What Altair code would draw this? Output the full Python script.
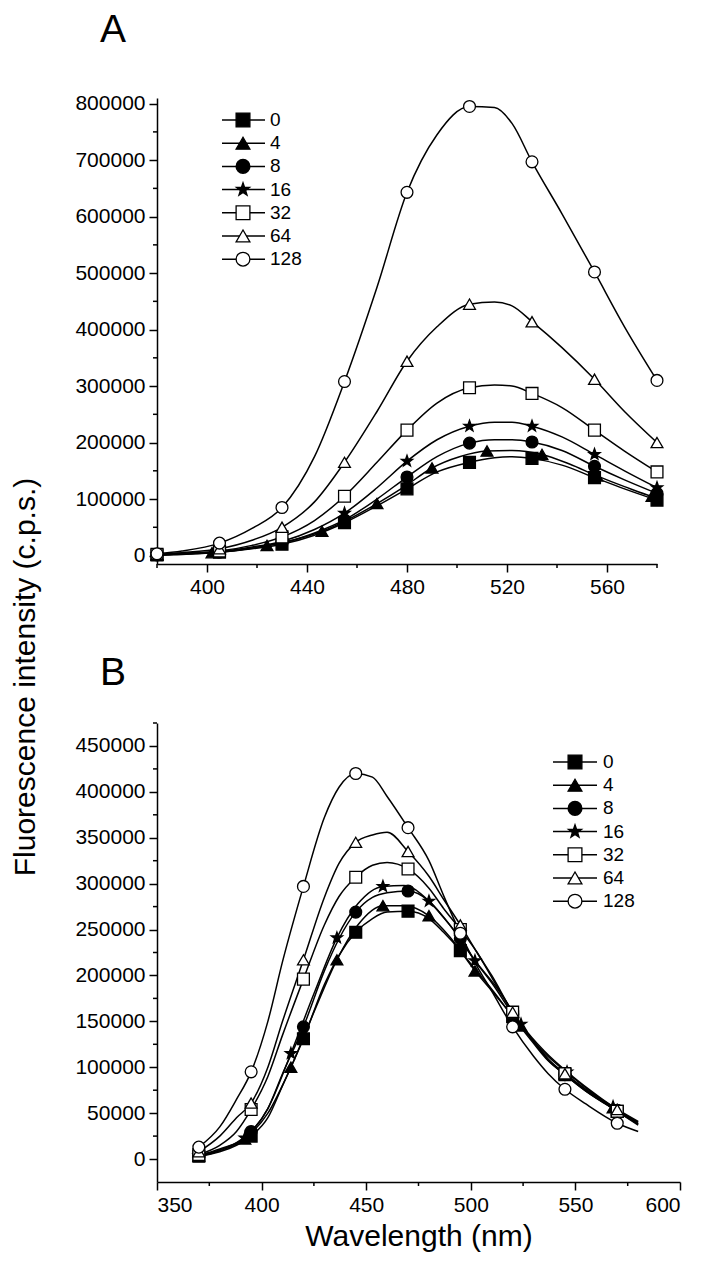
import altair as alt
import pandas as pd

SERIES = ["0", "4", "8", "16", "32", "64", "128"]

# ---------------- Panel A ----------------
A_WL_25 = [380, 390, 405, 418, 430, 443, 455, 468, 480, 492, 505, 515, 522, 530, 542, 555, 567, 580]
A_MK_25 = [380, 405, 430, 455, 480, 505, 530, 555, 580]
A_WL_22 = [380, 390, 402, 413, 424, 435, 446, 457, 468, 479, 490, 501, 512, 522, 534, 545, 556, 567, 578, 580]
A_MK_22 = [380, 402, 424, 446, 468, 490, 512, 534, 556, 578]

A_0 = [1000, 3000, 6000, 12000, 20000, 36000, 58000, 88000, 118000, 148000, 165000, 173000, 175000, 172000, 160000, 138000, 118000, 98000]
A_4 = [1000, 2000, 5000, 10000, 18000, 28000, 43000, 65000, 92000, 122000, 155000, 175000, 185000, 186000, 179000, 162000, 141000, 122000, 105000, 103000]
A_8 = [1000, 3000, 6000, 13000, 22000, 40000, 63000, 100000, 139000, 175000, 199000, 205000, 205000, 201000, 186000, 158000, 134000, 110000]
A_16 = [1000, 3000, 7000, 15000, 25000, 46000, 75000, 120000, 167000, 205000, 229000, 236000, 236000, 229000, 210000, 179000, 150000, 120000]
A_32 = [2000, 4000, 8000, 18000, 33000, 62000, 105000, 165000, 222000, 270000, 297000, 302000, 300000, 287000, 262000, 222000, 185000, 148000]
A_64 = [2000, 5000, 12000, 27000, 50000, 95000, 165000, 255000, 344000, 405000, 445000, 449000, 442000, 414000, 368000, 312000, 255000, 200000]
A_128 = [3000, 8000, 22000, 48000, 85000, 175000, 308000, 475000, 643000, 745000, 795000, 793000, 765000, 697000, 605000, 502000, 405000, 310000]

# ---------------- Panel B ----------------
B_WL_25 = [370, 380, 388, 395, 403, 410, 420, 430, 437, 445, 453, 460, 470, 480, 487, 495, 503, 510, 520, 530, 537, 545, 555, 570, 580]
B_MK_25 = [370, 395, 420, 445, 470, 495, 520, 545, 570]
B_WL_22 = [370, 380, 392, 403, 414, 425, 436, 446, 458, 468, 480, 490, 502, 512, 524, 535, 546, 557, 568, 580]
B_MK_22 = [370, 392, 414, 436, 458, 480, 502, 524, 546, 568]

B_0 = [3000, 8000, 15000, 25000, 45000, 80000, 131000, 190000, 222000, 247000, 262000, 269000, 270000, 262000, 247000, 227000, 204000, 185000, 155000, 126000, 107000, 92000, 74000, 52000, 38000]
B_4 = [3000, 9000, 22000, 50000, 100000, 160000, 217000, 255000, 276000, 276000, 265000, 242000, 205000, 178000, 145000, 116000, 94000, 74000, 56000, 40000]
B_8 = [4000, 10000, 18000, 30000, 55000, 93000, 144000, 205000, 240000, 269000, 285000, 290000, 292000, 281000, 263000, 240000, 213000, 192000, 158000, 128000, 108000, 92000, 74000, 53000, 40000]
B_16 = [4000, 11000, 23000, 55000, 115000, 180000, 241000, 278000, 297000, 298000, 281000, 255000, 216000, 188000, 147000, 118000, 95000, 75000, 57000, 41000]
B_32 = [5000, 15000, 30000, 54000, 90000, 135000, 196000, 255000, 286000, 307000, 320000, 323000, 316000, 295000, 273000, 250000, 225000, 198000, 160000, 128000, 108000, 93000, 75000, 52000, 37000]
B_64 = [8000, 25000, 45000, 61000, 100000, 150000, 217000, 285000, 322000, 345000, 353000, 356000, 335000, 308000, 283000, 255000, 225000, 200000, 160000, 128000, 109000, 93000, 76000, 54000, 38000]
B_128 = [13000, 35000, 65000, 95000, 150000, 215000, 297000, 372000, 405000, 420000, 416000, 395000, 361000, 325000, 287000, 246000, 210000, 183000, 144000, 112000, 93000, 76000, 60000, 39000, 30000]

# axis tick values
A_X_MAJOR = [400, 440, 480, 520, 560]
A_X_MINOR = [380, 420, 460, 500, 540, 580]
A_Y_MAJOR = [0, 100000, 200000, 300000, 400000, 500000, 600000, 700000, 800000]
A_Y_MINOR = [50000, 150000, 250000, 350000, 450000, 550000, 650000, 750000]
B_X_MAJOR = [350, 400, 450, 500, 550, 600]
B_X_MINOR = [375, 425, 475, 525, 575]
B_Y_MAJOR = [0, 50000, 100000, 150000, 200000, 250000, 300000, 350000, 400000, 450000]
B_Y_MINOR = [25000, 75000, 125000, 175000, 225000, 275000, 325000, 375000, 425000, 475000]

Y_TITLE = "Fluorescence intensity (c.p.s.)"
X_TITLE = "Wavelength (nm)"

FONT = "Liberation Sans"
STAR = ("M0,-1L0.235,-0.324L0.951,-0.309L0.38,0.124L0.588,0.809L0,0.4"
        "L-0.588,0.809L-0.38,0.124L-0.951,-0.309L-0.235,-0.324Z")
SHAPES = ["square", "triangle-up", "circle", STAR, "square", "triangle-up", "circle"]
FILLS = ["black", "black", "black", "black", "white", "white", "white"]


def build(wls, vals, mks):
    rows = []
    for s, wl, val, mk in zip(SERIES, wls, vals, mks):
        for w, v in zip(wl, val):
            rows.append({"series": s, "wl": w, "val": v, "marker": w in mk})
    return pd.DataFrame(rows)


dfA = build([A_WL_25, A_WL_22, A_WL_25, A_WL_25, A_WL_25, A_WL_25, A_WL_25],
            [A_0, A_4, A_8, A_16, A_32, A_64, A_128],
            [A_MK_25, A_MK_22, A_MK_25, A_MK_25, A_MK_25, A_MK_25, A_MK_25])
dfB = build([B_WL_25, B_WL_22, B_WL_25, B_WL_22, B_WL_25, B_WL_25, B_WL_25],
            [B_0, B_4, B_8, B_16, B_32, B_64, B_128],
            [B_MK_25, B_MK_22, B_MK_25, B_MK_22, B_MK_25, B_MK_25, B_MK_25])

shape_enc = alt.Shape("series:N", scale=alt.Scale(domain=SERIES, range=SHAPES), legend=None)
fill_enc = alt.Fill("series:N", scale=alt.Scale(domain=SERIES, range=FILLS), legend=None)


def panel(df, xdom, ydom, xmaj, xmin, ymaj, ymin, w, h, xtitle, leg, letter, letter_xy, extra=None):
    xs = alt.Scale(domain=xdom, nice=False, zero=False)
    ys = alt.Scale(domain=ydom, nice=False, zero=False)
    if xtitle:
        xax = alt.Axis(values=xmaj, title=xtitle, format="d", titlePadding=6)
    else:
        xax = alt.Axis(values=xmaj, title=None, format="d")
    yax = alt.Axis(values=ymaj, title=None, format="d")

    lines = alt.Chart(df).mark_line(color="black", strokeWidth=1.5, interpolate="monotone").encode(
        x=alt.X("wl:Q", scale=xs, axis=xax),
        y=alt.Y("val:Q", scale=ys, axis=yax),
        detail="series:N",
    )
    pts = alt.Chart(df).transform_filter("datum.marker").mark_point(
        filled=True, size=140, strokeWidth=1.3, opacity=1
    ).encode(
        x=alt.X("wl:Q", scale=xs, axis=xax),
        y=alt.Y("val:Q", scale=ys, axis=yax),
        shape=shape_enc, fill=fill_enc, stroke=alt.value("black"),
    )
    ymt = alt.Chart(pd.DataFrame({"wl": [xdom[0]] * len(ymin), "val": ymin})).mark_rule(
        color="black", strokeWidth=1.5
    ).encode(
        y=alt.Y("val:Q", scale=ys, axis=yax), x=alt.value(0), x2=alt.value(-4)
    )
    xmt = alt.Chart(pd.DataFrame({"wl": xmin, "val": [ydom[0]] * len(xmin)})).mark_rule(
        color="black", strokeWidth=1.5
    ).encode(
        x=alt.X("wl:Q", scale=xs, axis=xax), y=alt.value(h), y2=alt.value(h + 4)
    )

    lx0, lx1, lxm, ltx, ly0, dy = leg
    layers = [lines, pts, ymt, xmt]
    for i, s in enumerate(SERIES):
        py = ly0 + i * dy
        one = pd.DataFrame({"series": [s]})
        layers.append(alt.Chart(one).mark_rule(color="black", strokeWidth=1.5).encode(
            x=alt.value(lx0), x2=alt.value(lx1), y=alt.value(py)))
        layers.append(alt.Chart(one).mark_point(filled=True, size=190, strokeWidth=1.3, opacity=1).encode(
            x=alt.value(lxm), y=alt.value(py), shape=shape_enc, fill=fill_enc, stroke=alt.value("black")))
        layers.append(alt.Chart(one).mark_text(align="left", baseline="middle", fontSize=19, font=FONT,
                                               color="black").encode(
            x=alt.value(ltx), y=alt.value(py), text="series:N"))
    layers.append(alt.Chart(pd.DataFrame({"t": [letter]})).mark_text(
        fontSize=39, font=FONT, color="black", align="center", baseline="middle"
    ).encode(text="t:N", x=alt.value(letter_xy[0]), y=alt.value(letter_xy[1])))
    if extra is not None:
        layers.append(extra)
    return alt.layer(*layers).properties(width=w, height=h)


yt = alt.Chart(pd.DataFrame({"t": [Y_TITLE]})).mark_text(
    angle=270, fontSize=30, font=FONT, color="black", align="center", baseline="middle"
).encode(text="t:N", x=alt.value(-131), y=alt.value(-46))

chartA = panel(dfA, [380, 580], [-15000, 810000], A_X_MAJOR, A_X_MINOR, A_Y_MAJOR, A_Y_MINOR,
               500, 466, None, (65, 108, 86, 113, 22, 23.2), "A", (-44, -68))
chartB = panel(dfB, [350, 600], [-25000, 475000], B_X_MAJOR, B_X_MINOR, B_Y_MAJOR, B_Y_MINOR,
               523, 459, X_TITLE, (396, 440, 418, 446, 39, 23.2), "B", (-44, -50), extra=yt)

chart = alt.VConcatChart(vconcat=[chartA, chartB], spacing=159, bounds="flush").properties(
    padding={"left": 2, "top": 3, "right": 5, "bottom": 5}
).configure_view(stroke=None).configure_axis(
    domainColor="black", domainWidth=1.5, tickColor="black", tickWidth=1.5, tickSize=8,
    labelFont=FONT, labelFontSize=21, labelColor="black", labelPadding=4, grid=False,
    titleFont=FONT, titleFontSize=30, titleColor="black", titleFontWeight="normal",
)

chart.save("out.html", embed_options={"renderer": "svg", "actions": False})
